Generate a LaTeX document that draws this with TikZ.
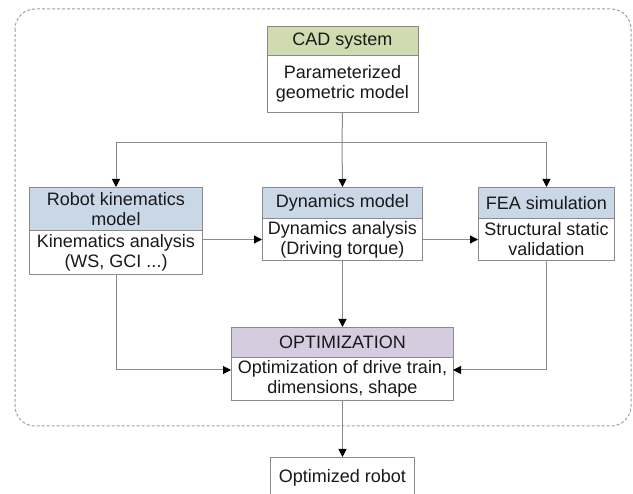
\documentclass[tikz,border=0pt]{standalone}
\usepackage{fontspec}
\setmainfont{Liberation Sans}
\usetikzlibrary{arrows.meta}
\definecolor{hdrgreen}{HTML}{D0DCB0}
\definecolor{hdrblue}{HTML}{C9D7E6}
\definecolor{hdrpurple}{HTML}{D5CCE0}
\definecolor{edgegray}{HTML}{8A8A8A}
\definecolor{framegray}{HTML}{A0A0A0}
\begin{document}
\begin{tikzpicture}[x=1pt,y=-1pt,
  part/.style={draw=edgegray, line width=1pt, inner sep=0pt, anchor=north west,
    align=center, font=\fontsize{18}{20}\selectfont, text=black!90},
  link/.style={draw=edgegray, line width=1pt, -{Triangle[length=8pt,width=8pt,color=black]}},
  plain/.style={draw=edgegray, line width=1pt}]
\useasboundingbox (0,0) rectangle (633,494);
\draw[framegray, line width=1pt, dash pattern=on 3pt off 2pt, rounded corners=20pt]
  (15,9) rectangle (631,426);

% CAD
\node[part, fill=hdrgreen, minimum width=151pt, minimum height=29pt] (cadh) at (266.5,26) {CAD system};
\node[part, fill=white, minimum width=151pt, minimum height=57pt] (cadb) at (266.5,55) {Parameterized\\geometric model};
% Robot kinematics
\node[part, fill=hdrblue, minimum width=173pt, minimum height=43pt] (robh) at (29,187) {Robot kinematics\\model};
\node[part, fill=white, minimum width=173pt, minimum height=44pt] (robb) at (29,230) {Kinematics analysis\\(WS, GCI ...)};
% Dynamics
\node[part, fill=hdrblue, minimum width=160pt, minimum height=31pt] (dynh) at (262,187) {Dynamics model};
\node[part, fill=white, minimum width=160pt, minimum height=42pt] (dynb) at (262,218) {Dynamics analysis\\(Driving torque)};
% FEA
\node[part, fill=hdrblue, minimum width=136pt, minimum height=31pt] (feah) at (478,187) {FEA simulation};
\node[part, fill=white, minimum width=136pt, minimum height=42pt] (feab) at (478,218) {Structural static\\validation};
% Optimization
\node[part, fill=hdrpurple, minimum width=222pt, minimum height=30pt] (opth) at (231,327) {OPTIMIZATION};
\node[part, fill=white, minimum width=222pt, minimum height=43pt] (optb) at (231,357) {Optimization of drive train,\\dimensions, shape};
% Output
\node[part, fill=white, minimum width=144pt, minimum height=40pt] (out) at (270,457) {Optimized robot};

% connectors
\coordinate (split) at (342,143);
\coordinate (optl) at (231,370);
\coordinate (optr) at (453,370);
\draw[plain] (cadb.south) -- (split);
\draw[link] (split) -- (dynh.north);
\draw[link] (split) -| (robh.north);
\draw[link] (split) -| (feah.north);
\draw[link] (robb.east |- dynb.west) -- (dynb.west);
\draw[link] (dynb.east) -- (feab.west);
\draw[link] (dynb.south) -- (opth.north);
\draw[link] (robb.south) |- (optl);
\draw[link] (feab.south) |- (optr);
\draw[link] (optb.south) -- (out.north);
\end{tikzpicture}
\end{document}
